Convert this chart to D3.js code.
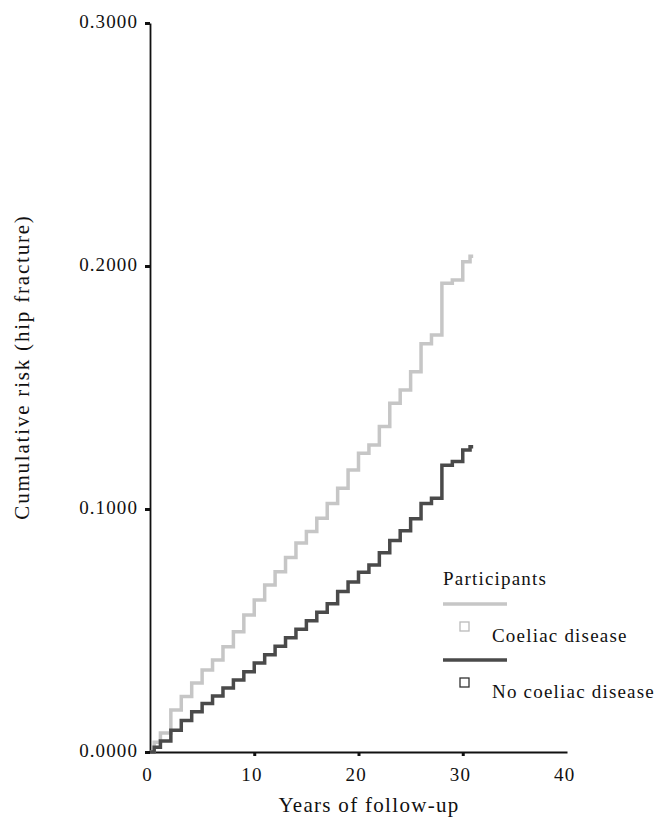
<!DOCTYPE html>
<html>
<head>
<meta charset="utf-8">
<script src="https://cdn.jsdelivr.net/npm/d3@7"></script>
<style>
  body { margin: 0; background: #fff; }
</style>
</head>
<body>
<svg id="chart"></svg>
<script>
// years of follow-up at which each step happens
var years = [0, 0.4, 1, 2, 3, 4, 5, 6, 7, 8, 9, 10, 11, 12, 13, 14, 15, 16, 17, 18, 19, 20,
	21, 22, 23, 24, 25, 26, 27, 28, 29, 30, 30.7, 31];

// cumulative risk, coeliac disease
var coeliac = [0, 0.0040, 0.0078, 0.0173, 0.0228, 0.0284, 0.0337, 0.0379, 0.0433, 0.0495, 0.0564, 0.0626,
	0.0687, 0.0742, 0.0800, 0.0860, 0.0907, 0.0962, 0.1023, 0.1085, 0.1160, 0.1229,
	0.1263, 0.1340, 0.1435, 0.1490, 0.1565, 0.1680, 0.1716, 0.1929, 0.1942, 0.2018, 0.2040, 0.2040];

// cumulative risk, no coeliac disease
var noCoeliac = [0, 0.0020, 0.0045, 0.0090, 0.0130, 0.0166, 0.0200, 0.0230, 0.0263, 0.0296, 0.0330, 0.0366,
	0.0400, 0.0435, 0.0470, 0.0505, 0.0540, 0.0575, 0.0610, 0.0660, 0.0700, 0.0740,
	0.0770, 0.0820, 0.0870, 0.0910, 0.0960, 0.1023, 0.1044, 0.1180, 0.1195, 0.1243, 0.1256, 0.1256];

var yTicks = [0, 0.1, 0.2, 0.3];
var xTicks = [0, 10, 20, 30, 40];

const width = 656;
const height = 819;
const serif = "'Liberation Serif', 'Times New Roman', 'DejaVu Serif', serif";

var svg = d3.select("#chart").attr("width", width).attr("height", height);

var x = d3.scaleLinear().domain([0, 40]).range([150, 567]);
var y = d3.scaleLinear().domain([0, 0.3]).range([752, 23]);

// axes
var yAxis = svg.append("g")
	.attr("transform", "translate(150,0)")
	.call(d3.axisLeft(y).tickValues(yTicks).tickSize(5).tickSizeOuter(0).tickFormat(d3.format(".4f")));
yAxis.attr("font-family", serif).attr("font-size", 19);
yAxis.select(".domain").attr("stroke", "#111").attr("stroke-width", 1.8);
yAxis.selectAll(".tick line").attr("stroke", "#111").attr("stroke-width", 3);
yAxis.selectAll(".tick text")
	.attr("x", -12)
	.attr("dy", "0.25em")
	.attr("fill", "#111")
	.style("letter-spacing", "1.1px");

var xAxis = svg.append("g")
	.attr("transform", "translate(0,752)")
	.call(d3.axisBottom(x).tickValues(xTicks).tickSize(4).tickSizeOuter(0));
xAxis.attr("font-family", serif).attr("font-size", 19);
xAxis.select(".domain").attr("stroke", "#111").attr("stroke-width", 1.8);
xAxis.selectAll(".tick line").attr("stroke", "#111").attr("stroke-width", 3)
	.attr("opacity", function (d) { return d == 0 || d == 40 ? 0 : 1; });
xAxis.selectAll(".tick text")
	.attr("y", 16)
	.attr("dx", "-0.15em")
	.attr("fill", "#111")
	.style("letter-spacing", "1.1px");

// axis titles
svg.append("text")
	.attr("x", 369)
	.attr("y", 812)
	.attr("text-anchor", "middle")
	.attr("font-family", serif)
	.attr("font-size", 21)
	.attr("fill", "#111")
	.style("letter-spacing", "1.3px")
	.text("Years of follow-up");

svg.append("text")
	.attr("transform", "translate(29,367) rotate(-90)")
	.attr("text-anchor", "middle")
	.attr("font-family", serif)
	.attr("font-size", 21)
	.attr("fill", "#111")
	.style("letter-spacing", "1.8px")
	.text("Cumulative risk (hip fracture)");

// step lines
var line = d3.line()
	.x(function (d) { return x(d[0]); })
	.y(function (d) { return y(d[1]); })
	.curve(d3.curveStepAfter);

var series = [
	{ name: "Coeliac disease", values: coeliac, color: "#c6c6c6" },
	{ name: "No coeliac disease", values: noCoeliac, color: "#4a4a4a" }
];

svg.selectAll("path.km")
	.data(series)
	.enter()
	.append("path")
	.attr("class", "km")
	.attr("fill", "none")
	.attr("stroke", function (d) { return d.color; })
	.attr("stroke-width", 3.5)
	.attr("d", function (d) {
		return line(years.map(function (t, i) { return [t, d.values[i]]; }));
	});

// legend
var legend = svg.append("g")
	.attr("transform", "translate(443,0)")
	.attr("font-family", serif)
	.attr("font-size", 19)
	.style("letter-spacing", "1.2px");

legend.append("text")
	.attr("x", 0).attr("y", 585)
	.attr("fill", "#111")
	.text("Participants");

var item = legend.selectAll("g.item")
	.data(series)
	.enter()
	.append("g")
	.attr("class", "item")
	.attr("transform", function (d, i) { return "translate(0," + (604 + i * 56) + ")"; });

item.append("line")
	.attr("x1", 0).attr("x2", 64)
	.attr("y1", 0).attr("y2", 0)
	.attr("stroke", function (d) { return d.color; })
	.attr("stroke-width", 3.5);

item.append("rect")
	.attr("x", 17).attr("y", 18)
	.attr("width", 9).attr("height", 9)
	.attr("fill", "#fff")
	.attr("stroke", function (d, i) { return i == 0 ? "#bbbbbb" : "#333"; })
	.attr("stroke-width", 1.3);

item.append("text")
	.attr("x", 49).attr("y", 38)
	.attr("fill", "#111")
	.text(function (d) { return d.name; });
</script>
</body>
</html>
